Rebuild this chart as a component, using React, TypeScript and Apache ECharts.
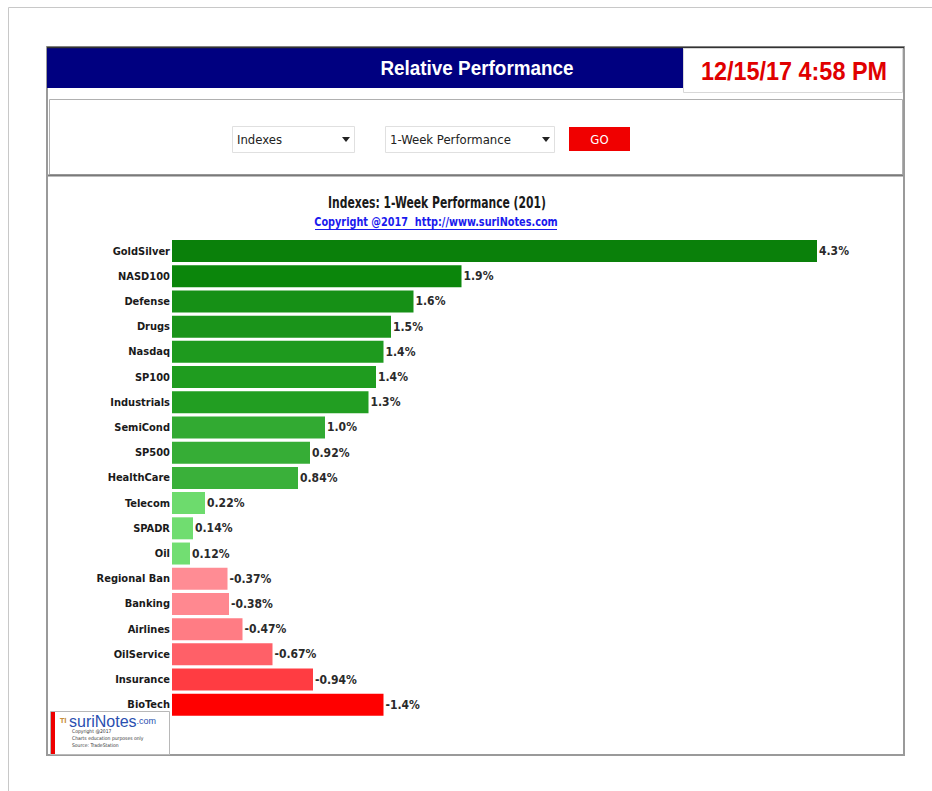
import React, { useEffect, useRef } from "react";
import * as echarts from "echarts";

const categories = [
  "GoldSilver", "NASD100", "Defense", "Drugs", "Nasdaq", "SP100", "Industrials",
  "SemiCond", "SP500", "HealthCare", "Telecom", "SPADR", "Oil", "Regional Ban",
  "Banking", "Airlines", "OilService", "Insurance", "BioTech",
];
const values = [
  4.3, 1.93, 1.61, 1.46, 1.41, 1.36, 1.31, 1.02, 0.92, 0.84, 0.22, 0.14, 0.12,
  -0.37, -0.38, -0.47, -0.67, -0.94, -1.41,
];
const palette = [
  "#0a800a", "#0b860b", "#169016", "#1a941a", "#1e9a1e", "#1f9c1f", "#229e22",
  "#32aa32", "#36ad36", "#3ab03a", "#6ddb6d", "#70dd70", "#72de72",
  "#ff8c94", "#ff8890", "#ff7c84", "#ff6068", "#ff3c42", "#ff0000",
];
const headerTitle = "Relative Performance";
const stamp = "12/15/17 4:58 PM";
const chartTitle = "Indexes: 1-Week Performance (201)";
const copyright = "Copyright @2017  http://www.suriNotes.com";

const NARROW = "'Liberation Sans Narrow', 'DejaVu Sans Condensed', 'Liberation Sans', sans-serif";

export default function App() {
  const ref = useRef<HTMLDivElement>(null);
  useEffect(() => {
    if (!ref.current) return;
    const chart = echarts.init(ref.current, null, { renderer: "svg" });
    const option: any = {
      animation: false,
      backgroundColor: "#ffffff",
      grid: { left: 172, top: 238.4, width: 675, height: 479, containLabel: false },
      xAxis: {
        type: "value", min: 0, max: 4.5, show: false,
      },
      yAxis: {
        type: "category", data: categories, inverse: true,
        axisLine: { show: false }, axisTick: { show: false }, splitLine: { show: false },
        axisLabel: {
          margin: 2, color: "#1a1a1a", fontWeight: "bold", fontSize: 11, fontFamily: NARROW,
        },
      },
      series: [
        {
          type: "bar",
          barWidth: 22,
          data: values.map((v, i) => ({ value: Math.abs(v), itemStyle: { color: palette[i] } })),
          label: {
            show: true, position: "right", distance: 2, color: "#2a2a2a",
            fontWeight: "bold", fontSize: 12, fontFamily: NARROW,
            formatter: (p: any) => values[p.dataIndex].toPrecision(2) + "%",
          },
        },
      ],
      graphic: [
        // outer frame
        { type: "line", shape: { x1: 8.5, y1: 7.5, x2: 932, y2: 7.5 }, style: { stroke: "#c8c8c8", lineWidth: 1 } },
        { type: "line", shape: { x1: 8.5, y1: 7.5, x2: 8.5, y2: 791 }, style: { stroke: "#c8c8c8", lineWidth: 1 } },
        // inner panel
        { type: "rect", shape: { x: 47, y: 47, width: 857, height: 708 }, style: { fill: "#ffffff", stroke: "#9a9a9a", lineWidth: 2 }, z: -10 },
        // header
        { type: "rect", shape: { x: 47, y: 47, width: 636, height: 41 }, style: { fill: "#000080" } },
        { type: "line", shape: { x1: 47, y1: 47.5, x2: 904, y2: 47.5 }, style: { stroke: "#333333", lineWidth: 1.5 } },
        {
          type: "text", x: 477, y: 68, scaleX: 0.9,
          style: { text: headerTitle, x: 0, y: 0, textAlign: "center", textVerticalAlign: "middle", fill: "#ffffff", font: "bold 21px 'Liberation Sans', Arial, sans-serif" },
        },
        { type: "rect", shape: { x: 683.5, y: 48.5, width: 219, height: 44 }, style: { fill: "#ffffff", stroke: "#d8d8d8", lineWidth: 1 } },
        {
          type: "text", x: 794, y: 71, scaleX: 0.9,
          style: { text: stamp, x: 0, y: 0, textAlign: "center", textVerticalAlign: "middle", fill: "#e00000", font: "bold 26px 'Liberation Sans', Arial, sans-serif" },
        },
        // controls box
        { type: "rect", shape: { x: 49.5, y: 99.5, width: 853, height: 75 }, style: { fill: "#ffffff", stroke: "#b0b0b0", lineWidth: 1 } },
        { type: "line", shape: { x1: 48, y1: 175.5, x2: 903, y2: 175.5 }, style: { stroke: "#7a7a7a", lineWidth: 2 } },
        { type: "rect", shape: { x: 232.5, y: 126.5, width: 122, height: 26 }, style: { fill: "#ffffff", stroke: "#e0e0e0", lineWidth: 1 } },
        { type: "text", style: { text: "Indexes", x: 237, y: 139.5, textAlign: "left", textVerticalAlign: "middle", fill: "#222222", font: "13px " + NARROW } },
        { type: "polygon", shape: { points: [[342, 137], [350, 137], [346, 142]] }, style: { fill: "#222222" } },
        { type: "rect", shape: { x: 385.5, y: 126.5, width: 169, height: 26 }, style: { fill: "#ffffff", stroke: "#e0e0e0", lineWidth: 1 } },
        { type: "text", style: { text: "1-Week Performance", x: 390, y: 139.5, textAlign: "left", textVerticalAlign: "middle", fill: "#222222", font: "13px " + NARROW } },
        { type: "polygon", shape: { points: [[542, 137], [550, 137], [546, 142]] }, style: { fill: "#222222" } },
        { type: "rect", shape: { x: 569, y: 127, width: 61, height: 24 }, style: { fill: "#f00000" } },
        { type: "text", style: { text: "GO", x: 599.5, y: 139.5, textAlign: "center", textVerticalAlign: "middle", fill: "#ffffff", font: "13px " + NARROW } },
        // chart title
        {
          type: "text", x: 437, y: 202, scaleX: 0.75,
          style: { text: chartTitle, x: 0, y: 0, textAlign: "center", textVerticalAlign: "middle", fill: "#1a1a1a", font: "bold 16px " + NARROW },
        },
        {
          type: "text", x: 436, y: 222, scaleX: 0.9,
          style: { text: copyright, x: 0, y: 0, textAlign: "center", textVerticalAlign: "middle", fill: "#1a1aee", font: "bold 12px " + NARROW },
        },
        { type: "line", shape: { x1: 315, y1: 229.5, x2: 557, y2: 229.5 }, style: { stroke: "#1a1aee", lineWidth: 1 } },
        // logo
        { type: "rect", shape: { x: 50.5, y: 711.5, width: 119, height: 43 }, style: { fill: "#ffffff", stroke: "#b8b8b8", lineWidth: 1 } },
        { type: "rect", shape: { x: 51, y: 712, width: 4, height: 42 }, style: { fill: "#ee0000" } },
        { type: "text", style: { text: "TI", x: 60, y: 721, textAlign: "left", textVerticalAlign: "middle", fill: "#c89040", font: "bold 7px " + NARROW } },
        {
          type: "text",
          style: {
            text: "{a|suri}{b|N}{a|otes}{c|.com}", x: 69, y: 721, textAlign: "left", textVerticalAlign: "middle",
            rich: {
              a: { fill: "#2a4fb0", font: "16px 'Liberation Sans', Arial, sans-serif" },
              b: { fill: "#2a4fb0", font: "16px 'Liberation Sans', Arial, sans-serif" },
              c: { fill: "#2a4fb0", font: "9px 'Liberation Sans', Arial, sans-serif" },
            },
          },
        },
        { type: "text", style: { text: "Copyright @2017", x: 72, y: 731, textAlign: "left", textVerticalAlign: "middle", fill: "#333333", font: "5px " + NARROW } },
        { type: "text", style: { text: "Charts education purposes only", x: 72, y: 738, textAlign: "left", textVerticalAlign: "middle", fill: "#333333", font: "5px " + NARROW } },
        { type: "text", style: { text: "Source: TradeStation", x: 72, y: 745, textAlign: "left", textVerticalAlign: "middle", fill: "#333333", font: "5px " + NARROW } },
      ],
    };
    chart.setOption(option);
    return () => chart.dispose();
  }, []);
  return (
    <div
      ref={ref}
      style={{ position: "absolute", left: 0, top: 0, width: 932, height: 791 }}
    />
  );
}
